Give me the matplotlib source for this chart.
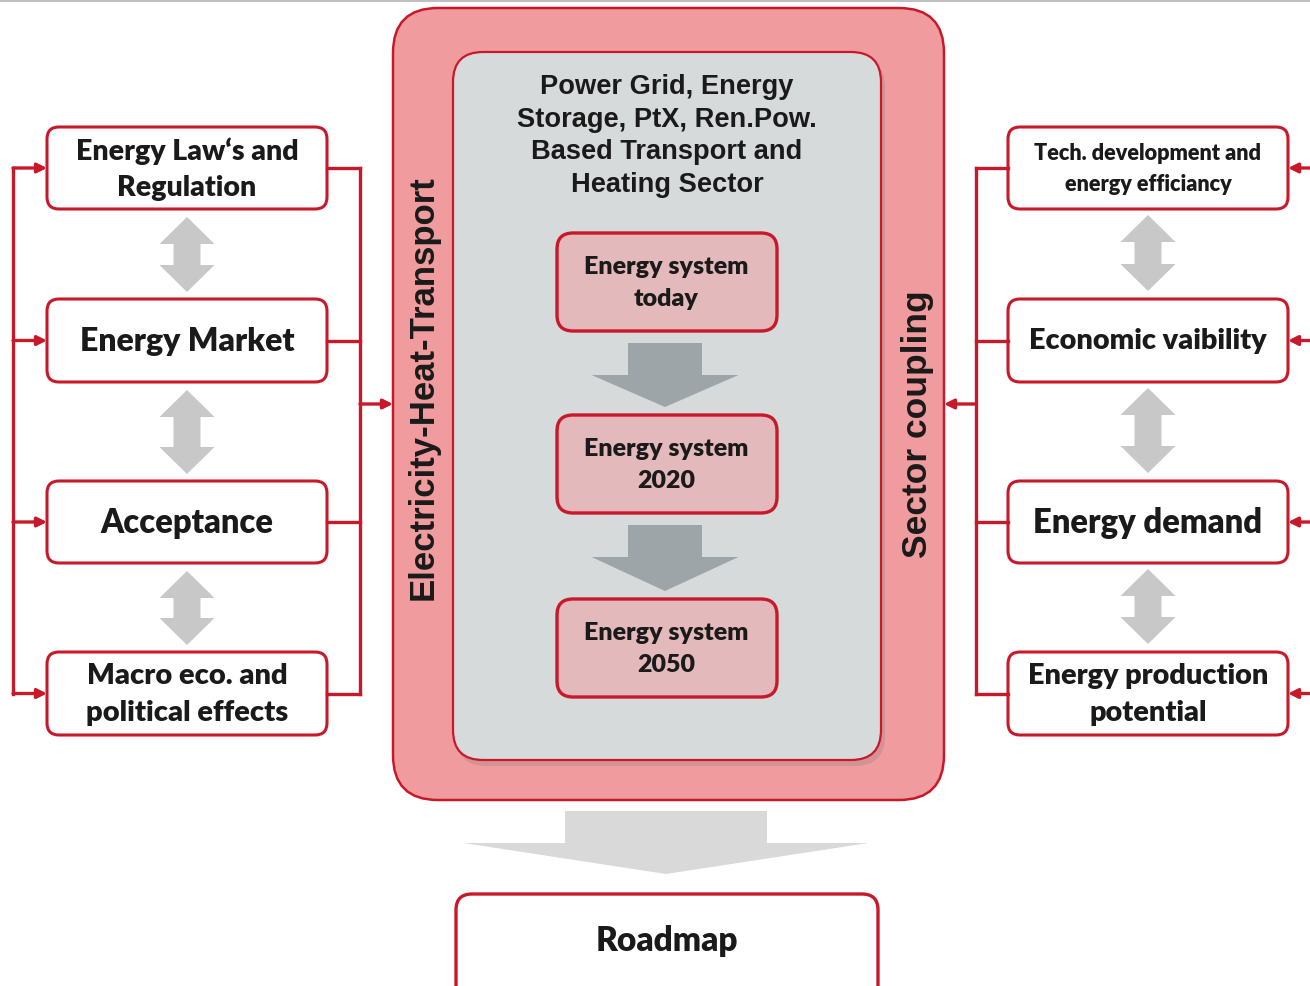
import numpy as np
import matplotlib.pyplot as plt
from matplotlib.patches import FancyBboxPatch, Polygon

# Data
left_labels = ["Energy Law\u2018s and\nRegulation", "Energy Market", "Acceptance", "Macro eco. and\npolitical effects"]
left_sizes = [20.5, 23, 23.5, 21]
right_labels = ["Tech. development and\nenergy efficiancy", "Economic vaibility", "Energy demand", "Energy production\npotential"]
right_sizes = [15.6, 20.8, 23.6, 20.8]
stage_labels = ["Energy system\ntoday", "Energy system\n2020", "Energy system\n2050"]
center_title = "Power Grid, Energy\nStorage, PtX, Ren.Pow.\nBased Transport and\nHeating Sector"
left_side_label = "Electricity-Heat-Transport"
right_side_label = "Sector coupling"
output_label = "Roadmap"

RED = "#C8192B"
OUTER = "#F09C9E"
INNER = "#D6DADB"
STAGE = "#E4B9BC"
GREY_ARROW = "#C8C8C8"
DARK_ARROW = "#9EA5A8"
BIG_ARROW = "#D9D9D9"
TXT = "#1A1A1A"
BODY_FONT = ["Lato", "DejaVu Sans"]
HEAD_FONT = ["Liberation Sans", "DejaVu Sans"]
BODY_W = "heavy"

fig = plt.figure(figsize=(13.1, 9.86), dpi=100)
ax = fig.add_axes([0, 0, 1, 1])
ax.set_xlim(0, 1310)
ax.set_ylim(986, 0)
ax.axis("off")


def rbox(x0, y0, x1, y1, r, fc, ec=RED, lw=2.2, z=2):
    p = FancyBboxPatch((x0 + r, y0 + r), (x1 - x0) - 2 * r, (y1 - y0) - 2 * r,
                       boxstyle="round,pad=%g" % r, fc=fc, ec=ec, lw=lw, zorder=z)
    ax.add_patch(p)
    return p


def down_arrow(cx, y0, shaft_w, y_base, head_w, y_tip, color, z=3):
    pts = [(cx - shaft_w / 2, y0), (cx + shaft_w / 2, y0), (cx + shaft_w / 2, y_base),
           (cx + head_w / 2, y_base), (cx, y_tip), (cx - head_w / 2, y_base),
           (cx - shaft_w / 2, y_base)]
    ax.add_patch(Polygon(pts, closed=True, fc=color, ec="none", zorder=z))


def double_arrow(cx, y_top, y_bot, color=GREY_ARROW):
    hw, sw, hl = 55, 27, 27
    pts = [(cx, y_top), (cx + hw / 2, y_top + hl), (cx + sw / 2, y_top + hl),
           (cx + sw / 2, y_bot - hl), (cx + hw / 2, y_bot - hl), (cx, y_bot),
           (cx - hw / 2, y_bot - hl), (cx - sw / 2, y_bot - hl),
           (cx - sw / 2, y_top + hl), (cx - hw / 2, y_top + hl)]
    ax.add_patch(Polygon(pts, closed=True, fc=color, ec="none", zorder=2))


def red_arrow(x0, y0, x1, y1):
    ax.annotate("", xy=(x1, y1), xytext=(x0, y0),
                arrowprops=dict(arrowstyle="-|>", color=RED, lw=2.4,
                                mutation_scale=14, shrinkA=0, shrinkB=0), zorder=4)


# thin line at the top
ax.plot([0, 1310], [0.8, 0.8], color="#C0C0C0", lw=1.5, zorder=1)

# side boxes
box_tops = [127, 299, 481, 652]
box_bots = [209, 382, 563, 735]
centers = [(a + b) / 2 for a, b in zip(box_tops, box_bots)]
lx0, lx1 = 47, 327
rx0, rx1 = 1008, 1288

for i in range(4):
    rbox(lx0, box_tops[i], lx1, box_bots[i], 12, "white")
    ax.text((lx0 + lx1) / 2, centers[i] + 1, left_labels[i], ha="center", va="center",
            fontsize=left_sizes[i], fontweight=BODY_W, family=BODY_FONT, color=TXT,
            linespacing=1.5, zorder=5)
    rbox(rx0, box_tops[i], rx1, box_bots[i], 12, "white")
    ax.text((rx0 + rx1) / 2, centers[i] + 1, right_labels[i], ha="center", va="center",
            fontsize=right_sizes[i], fontweight=BODY_W, family=BODY_FONT, color=TXT,
            linespacing=1.5 if right_sizes[i] > 18 else 1.55, zorder=5)

# grey double arrows between side boxes
for i in range(3):
    double_arrow((lx0 + lx1) / 2, box_bots[i] + 8, box_tops[i + 1] - 7)
    double_arrow((rx0 + rx1) / 2, box_bots[i] + 6, box_tops[i + 1] - 8)

# left bracket
ax.plot([13, 13], [centers[0], centers[-1]], color=RED, lw=2.4, zorder=3)
ax.plot([360, 360], [centers[0], centers[-1]], color=RED, lw=2.4, zorder=3)
for c in centers:
    red_arrow(13, c, lx0, c)
    ax.plot([lx1, 360], [c, c], color=RED, lw=2.4, zorder=3)
red_arrow(360, 404, 393, 404)

# right bracket
ax.plot([976, 976], [centers[0], centers[-1]], color=RED, lw=2.4, zorder=3)
for c in centers:
    ax.plot([976, rx0], [c, c], color=RED, lw=2.4, zorder=3)
    red_arrow(1312, c, rx1, c)
red_arrow(976, 404, 944, 404)

# central block
rbox(393, 8, 944, 800, 45, OUTER, lw=1.8, z=1)
# shadow of inner box
rbox(456, 57, 885, 766, 30, "#B08A8C", ec="none", lw=0, z=1.5).set_alpha(0.45)
rbox(453, 52, 881, 760, 30, INNER, lw=1.6, z=2)

ax.text(667, 136, center_title, ha="center", va="center", fontsize=19.6,
        fontweight="bold", family=HEAD_FONT, color=TXT, linespacing=1.34, zorder=5)

ax.text(423, 388, left_side_label, ha="center", va="center", rotation=90,
        fontsize=25, fontweight="bold", family=HEAD_FONT, color=TXT, zorder=5)
ax.text(917, 424, right_side_label, ha="center", va="center", rotation=90,
        fontsize=25.5, fontweight="bold", family=HEAD_FONT, color=TXT, zorder=5)

stage_tops = [233, 415, 599]
stage_bots = [331, 513, 697]
for i, lab in enumerate(stage_labels):
    rbox(557, stage_tops[i], 777, stage_bots[i], 16, STAGE, lw=2.4, z=3)
    ax.text(666, (stage_tops[i] + stage_bots[i]) / 2 + 1, lab, ha="center", va="center",
            fontsize=18, fontweight=BODY_W, family=BODY_FONT, color=TXT,
            linespacing=1.55, zorder=5)
    if i < 2:
        down_arrow(665, stage_bots[i] + 12, 74, stage_bots[i] + 44, 147,
                   stage_tops[i + 1] - 8, DARK_ARROW)

# output
down_arrow(666, 811, 202, 843, 405, 874, BIG_ARROW)
rbox(456, 894, 878, 1010, 16, "white", lw=2.4)
ax.text(667, 941, output_label, ha="center", va="center", fontsize=24,
        fontweight=BODY_W, family=BODY_FONT, color=TXT, zorder=5)

fig.savefig("out.png", dpi=100, facecolor="white")
